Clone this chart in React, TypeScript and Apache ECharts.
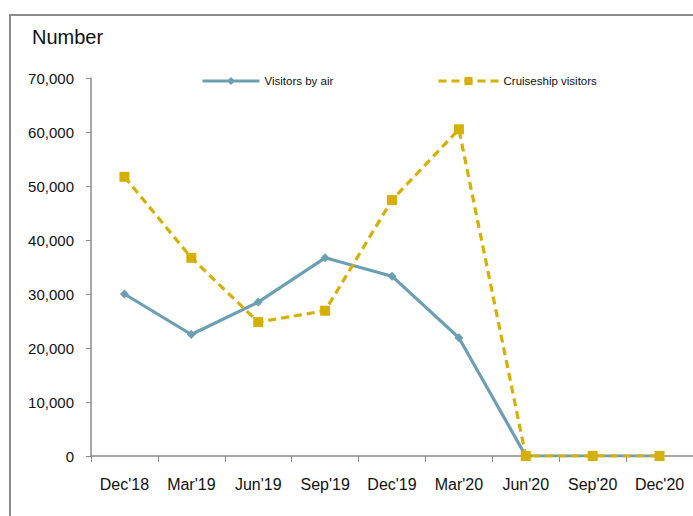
import React, { useEffect, useRef } from "react";
import * as echarts from "echarts";

const categories = ["Dec'18", "Mar'19", "Jun'19", "Sep'19", "Dec'19", "Mar'20", "Jun'20", "Sep'20", "Dec'20"];
const visitorsByAir = [30000, 22500, 28500, 36700, 33300, 21900, 0, 0, 0];
const cruiseshipVisitors = [51700, 36700, 24800, 26900, 47400, 60500, 0, 0, 0];
const yTicks = { min: 0, max: 70000, interval: 10000 };

const FONT = "'Liberation Sans', Arial, sans-serif";
const BLUE = "#6b9fb1";
const GOLD = "#d4b000";

export default function App() {
  const ref = useRef<HTMLDivElement>(null);
  useEffect(() => {
    if (!ref.current) return;
    const chart = echarts.init(ref.current, undefined, { renderer: "svg" });
    chart.setOption({
      animation: false,
      backgroundColor: "#ffffff",
      textStyle: { fontFamily: FONT },
      graphic: [
        {
          type: "polyline",
          shape: { points: [[10, 530], [10, 15], [700, 15]] },
          style: { stroke: "#8a8a8a", lineWidth: 2, fill: "none" },
          silent: true,
        },
        {
          type: "text",
          left: 32,
          top: 27,
          style: { text: "Number", fontSize: 20, fontFamily: FONT, fill: "#111" },
        },
      ],
      legend: [
        {
          left: 201,
          top: 75,
          padding: 0,
          itemWidth: 57,
          itemHeight: 10,
          itemGap: 4,
          data: ["Visitors by air"],
          lineStyle: { width: 3 },
          textStyle: { fontSize: 11.5, color: "#111", fontFamily: FONT, padding: [0, 0, 0, 0] },
        },
        {
          left: 437,
          top: 75,
          padding: 0,
          itemWidth: 60,
          itemHeight: 10,
          itemGap: 4,
          data: ["Cruiseship visitors"],
          lineStyle: { width: 3 },
          textStyle: { fontSize: 11.5, color: "#111", fontFamily: FONT },
        },
      ],
      grid: { left: 91, top: 78, width: 603, height: 378, containLabel: false },
      xAxis: {
        type: "category",
        data: categories,
        boundaryGap: true,
        axisLine: { lineStyle: { color: "#8a8a8a", width: 1.5 } },
        axisTick: { show: true, length: 6, alignWithLabel: false, interval: 0, lineStyle: { color: "#8a8a8a" } },
        axisLabel: { interval: 0, fontSize: 16, color: "#111", margin: 20, fontFamily: FONT },
        splitLine: { show: false },
      },
      yAxis: {
        type: "value",
        min: yTicks.min,
        max: yTicks.max,
        interval: yTicks.interval,
        axisLine: { show: true, lineStyle: { color: "#8a8a8a", width: 1.5 } },
        axisTick: { show: true, length: 5, inside: false, lineStyle: { color: "#8a8a8a" } },
        axisLabel: {
          fontSize: 15,
          color: "#111",
          margin: 17,
          fontFamily: FONT,
          formatter: (v: number) => v.toLocaleString("en-US"),
        },
        splitLine: { show: false },
      },
      series: [
        {
          name: "Visitors by air",
          type: "line",
          data: visitorsByAir,
          symbol: "diamond",
          symbolSize: 9,
          itemStyle: { color: BLUE },
          lineStyle: { color: BLUE, width: 3.2 },
          z: 2,
        },
        {
          name: "Cruiseship visitors",
          type: "line",
          data: cruiseshipVisitors,
          symbol: "rect",
          symbolSize: 10,
          itemStyle: { color: GOLD },
          lineStyle: { color: GOLD, width: 3.2, type: [8, 5] },
          z: 3,
        },
      ],
    });
    return () => chart.dispose();
  }, []);
  return (
    <div
      ref={ref}
      style={{ position: "fixed", left: 0, top: 0, width: 693, height: 516 }}
    />
  );
}
